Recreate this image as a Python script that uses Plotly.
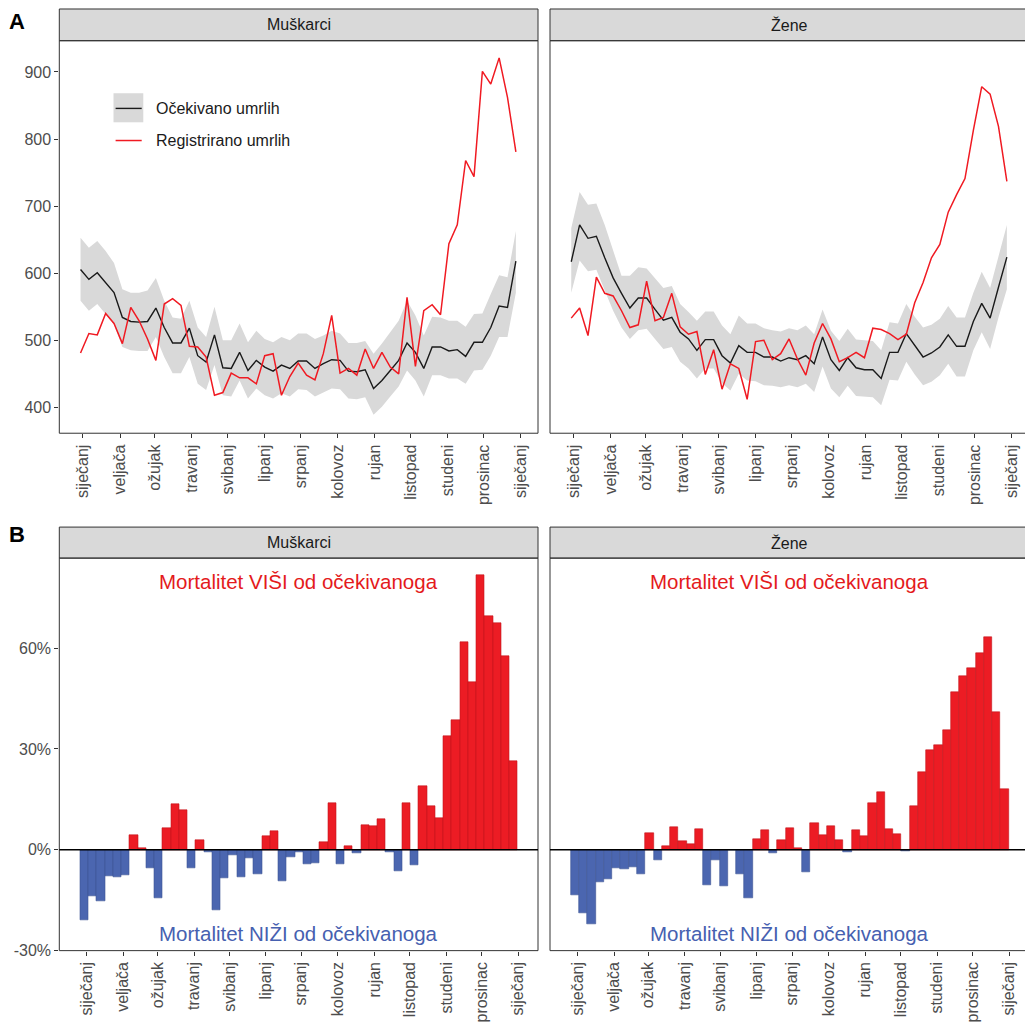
import plotly.graph_objects as go
import pandas as pd

# The page body has an 8px default margin, so the figure is drawn at (8,8)
OFF = 8
W, H = 1033 - OFF, 1030 - OFF

# ---------------- data ----------------
weeks = pd.date_range("2019-12-30", periods=53, freq="7D")

month_ticks = pd.date_range("2020-01-01", periods=13, freq="MS")
month_labels = ["siječanj", "veljača", "ožujak", "travanj", "svibanj", "lipanj",
                "srpanj", "kolovoz", "rujan", "listopad", "studeni", "prosinac", "siječanj"]

# Muškarci
m_exp = [605.6, 590.8, 600.7, 586, 571, 534, 528, 527, 528, 548,
         519, 496, 496, 518, 477, 467.5, 508, 459, 458, 482,
         455, 470, 460, 454, 463, 458, 469, 469, 458, 465,
         471, 470, 454, 453, 456, 428, 440, 455, 470, 496,
         482, 458, 490, 490, 484, 486, 476, 497, 497, 519,
         551, 549, 618]
m_hi = [653, 638, 648, 633, 615, 576, 571, 571, 574, 593,
        559, 534, 532, 559, 519, 505, 550, 500, 500, 525,
        497, 514, 502, 497, 505, 500, 510, 510, 502, 507,
        514, 510, 496, 496, 499, 480, 495, 512, 529, 559,
        537, 507, 535, 534, 529, 529, 520, 539, 540, 569,
        597, 594, 663]
m_lo = [559, 544, 554, 539, 524, 490, 485, 484, 484, 505,
        475, 451, 451, 475, 435, 426, 463, 418, 416, 440,
        413, 428, 418, 413, 421, 416, 427, 426, 416, 422,
        428, 427, 413, 412, 415, 389, 401, 416, 431, 455,
        440, 416, 448, 448, 443, 443, 435, 455, 456, 477,
        505, 505, 571]
m_reg = [481, 510, 508, 540, 525, 495, 549, 529, 502, 470,
         554, 562, 552, 491, 490, 475, 418, 422, 451, 444,
         444, 435, 477, 480, 418, 446, 466, 448, 441, 480,
         537, 451, 458, 448, 487, 458, 482, 460, 450, 564,
         461, 544, 553, 538, 644, 672, 768, 744, 901, 882,
         921, 862, 781]

# Žene
f_exp = [617, 672, 652, 655, 623, 593, 570, 548, 563, 563,
         546, 530, 534, 512, 502, 485, 501, 501, 477, 466,
         492, 482, 482, 475, 475, 469, 474, 471, 477, 465,
         505, 471, 455, 474, 459, 456, 456, 443, 482, 482,
         510, 492, 475, 481, 490, 508, 491, 491, 528, 555,
         533, 579, 624]
f_hi = [667, 721, 702, 704, 672, 633, 596, 596, 609, 607,
        593, 578, 581, 554, 542, 529, 543, 543, 522, 509,
        537, 525, 525, 518, 515, 513, 518, 515, 522, 509,
        546, 514, 499, 517, 501, 500, 499, 485, 527, 525,
        554, 535, 519, 523, 532, 551, 534, 534, 571, 602,
        578, 625, 672]
f_lo = [571, 619, 603, 605, 574, 544, 519, 502, 515, 517,
        502, 487, 490, 468, 458, 443, 458, 458, 436, 425,
        450, 440, 439, 433, 432, 430, 433, 430, 435, 423,
        461, 428, 415, 432, 417, 416, 415, 403, 441, 440,
        468, 449, 433, 438, 448, 465, 446, 446, 485, 512,
        487, 534, 576]
f_reg = [533, 548, 507, 594, 570, 566, 544, 519, 523, 588,
         529, 534, 570, 520, 509, 513, 449, 486, 427, 465,
         458, 412, 498, 500, 471, 480, 502, 472, 448, 496,
         525, 502, 468, 474, 482, 474, 518, 516, 510, 501,
         509, 556, 586, 623, 643, 691, 717, 741, 813, 878,
         867, 819, 737]

# % difference registered vs expected
m_pct = [-20.8, -13.7, -15.4, -7.8, -8.1, -7.4, 4.3, 0.6, -5.3, -14.5,
         6.5, 13.6, 11.7, -5.3, 2.9, -0.8, -17.9, -8.3, -1.6, -8.1,
         -2.5, -7.3, 4.1, 5.6, -9.4, -2.2, -0.8, -4.2, -4.0, 2.4,
         13.9, -4.2, 1.0, -1.0, 7.3, 7.0, 9.0, -0.6, -6.2, 13.9,
         -4.5, 19.1, 13.1, 9.5, 33.9, 38.6, 61.7, 49.9, 81.6, 69.5,
         67.4, 57.7, 26.5]
f_pct = [-13.6, -18.9, -22.1, -9.6, -8.8, -5.5, -5.7, -5.2, -7.1, 4.9,
         -3.1, 1.1, 6.7, 2.5, 1.8, 6.3, -10.6, -3.1, -10.9, -0.2,
         -7.1, -14.3, 3.3, 5.8, -1.1, 2.9, 6.4, 0.5, -6.7, 8.0,
         4.4, 7.0, 3.0, -0.8, 5.8, 4.1, 14.0, 17.1, 6.1, 4.6,
         -0.3, 13.0, 23.0, 29.6, 31.2, 35.6, 46.9, 51.8, 54.0, 58.4,
         63.3, 41.0, 18.2]

panel_titles = ["Muškarci", "Žene"]
legend_labels = ["Očekivano umrlih", "Registrirano umrlih"]
note_high = "Mortalitet VIŠI od očekivanoga"
note_low = "Mortalitet NIŽI od očekivanoga"
y_top_ticks = [400, 500, 600, 700, 800, 900]
y_bot_ticks = [-30, 0, 30, 60]
y_bot_labels = ["-30%", "0%", "30%", "60%"]

# ---------------- style ----------------
FONT = "Liberation Sans, Arial, sans-serif"
RED_LINE = "#F01A22"
RIBBON = "rgb(217,217,217)"
BAR_RED = "#EC1C24"
BAR_RED_EDGE = "#C2161D"
BAR_BLUE = "#4B66B0"
BAR_BLUE_EDGE = "#3D5494"
TXT_RED = "#E41A1C"
TXT_BLUE = "#4660B0"
TICK_COL = "#4D4D4D"
BORDER = "#333333"


def px_x(x):
    return (x - OFF) / W


def px_y(y):
    return 1 - (y - OFF) / H


# panel pixel boxes in window coordinates (left, right) / (top, bottom)
cols = [(59.3, 538.0), (550.0, 1029.0)]
top_rows = (41.0, 437.0)
bot_rows = (563.0, 959.0)
strip_top = (9.0, 41.0)
strip_bot = (531.7, 563.0)

fig = go.Figure()

# top panels: ribbon + lines
for i, (exp, lo, hi, reg) in enumerate([(m_exp, m_lo, m_hi, m_reg), (f_exp, f_lo, f_hi, f_reg)]):
    xa = "x" if i == 0 else "x2"
    ya = "y" if i == 0 else "y2"
    fig.add_trace(go.Scatter(x=weeks, y=lo, mode="lines", line=dict(width=0, color=RIBBON),
                             xaxis=xa, yaxis=ya, showlegend=False, hoverinfo="skip"))
    fig.add_trace(go.Scatter(x=weeks, y=hi, mode="lines", line=dict(width=0, color=RIBBON),
                             fill="tonexty", fillcolor=RIBBON,
                             xaxis=xa, yaxis=ya, showlegend=False, hoverinfo="skip"))
    fig.add_trace(go.Scatter(x=weeks, y=exp, mode="lines", line=dict(width=1.4, color="#1a1a1a"),
                             xaxis=xa, yaxis=ya, showlegend=False, name=legend_labels[0]))
    fig.add_trace(go.Scatter(x=weeks, y=reg, mode="lines", line=dict(width=1.5, color=RED_LINE),
                             xaxis=xa, yaxis=ya, showlegend=False, name=legend_labels[1]))

# bottom panels: bars
WEEK_MS = 7 * 86400000
for i, pct in enumerate([m_pct, f_pct]):
    xa = "x3" if i == 0 else "x4"
    ya = "y3" if i == 0 else "y4"
    fills = [BAR_RED if v >= 0 else BAR_BLUE for v in pct]
    edges = [BAR_RED_EDGE if v >= 0 else BAR_BLUE_EDGE for v in pct]
    fig.add_trace(go.Bar(x=weeks, y=pct, width=[WEEK_MS] * len(pct),
                         marker=dict(color=fills, line=dict(color=edges, width=0.6)),
                         xaxis=xa, yaxis=ya, showlegend=False))

# axes
tick_font = dict(family=FONT, size=16, color=TICK_COL)
top_xrange = ["2019-12-12 06:00", "2021-01-15 12:00"]
bot_xrange = ["2019-12-08 18:00", "2021-01-17 18:00"]

layout_axes = {}
names = [("xaxis", "yaxis", 0, top_rows, top_xrange),
         ("xaxis2", "yaxis2", 1, top_rows, top_xrange),
         ("xaxis3", "yaxis3", 0, bot_rows, bot_xrange),
         ("xaxis4", "yaxis4", 1, bot_rows, bot_xrange)]
for xn, yn, c, rows, xr in names:
    l, r = cols[c]
    t, b = rows
    anchor_y = yn.replace("axis", "")
    anchor_x = xn.replace("axis", "")
    layout_axes[xn] = dict(domain=[px_x(l), px_x(r)], anchor=anchor_y, type="date", range=xr,
                           tickmode="array", tickvals=month_ticks, ticktext=month_labels,
                           tickangle=-90, ticks="outside", ticklen=4, tickcolor=BORDER,
                           tickwidth=1, tickfont=tick_font, showgrid=False, zeroline=False,
                           showline=False)
    is_top = rows == top_rows
    ydict = dict(domain=[px_y(b), px_y(t)], anchor=anchor_x, showgrid=False, zeroline=False,
                 showline=False)
    if is_top:
        ydict.update(range=[361.4, 946.6], tickmode="array", tickvals=y_top_ticks)
    else:
        ydict.update(range=[-30, 86.8], tickmode="array", tickvals=y_bot_ticks,
                     ticktext=y_bot_labels)
    if c == 0:
        ydict.update(ticks="outside", ticklen=4, tickcolor=BORDER, tickwidth=1,
                     tickfont=tick_font, showticklabels=True)
    else:
        ydict.update(ticks="", showticklabels=False)
    layout_axes[yn] = ydict

fig.update_layout(**layout_axes)

shapes = []
annotations = []

# panel borders
for xn, yn, c, rows, xr in names:
    xr_ = xn.replace("axis", "") + " domain"
    yr_ = yn.replace("axis", "") + " domain"
    shapes.append(dict(type="rect", xref=xr_, yref=yr_, x0=0, x1=1, y0=0, y1=1,
                       line=dict(color=BORDER, width=1), fillcolor="rgba(0,0,0,0)", layer="above"))

# zero lines in bar panels
for xr_, yr_ in [("x3 domain", "y3"), ("x4 domain", "y4")]:
    shapes.append(dict(type="line", xref=xr_, yref=yr_, x0=0, x1=1, y0=0, y1=0,
                       line=dict(color="black", width=1.6), layer="above"))

# strips
for (st, sb) in [strip_top, strip_bot]:
    for c, (l, r) in enumerate(cols):
        shapes.append(dict(type="rect", xref="paper", yref="paper",
                           x0=px_x(l), x1=px_x(r), y0=px_y(sb), y1=px_y(st),
                           fillcolor="#D9D9D9", line=dict(color=BORDER, width=1), layer="below"))
        annotations.append(dict(text=panel_titles[c], xref="paper", yref="paper",
                                x=px_x((l + r) / 2), y=px_y((st + sb) / 2),
                                showarrow=False, xanchor="center", yanchor="middle",
                                font=dict(family=FONT, size=16, color="#1a1a1a")))

# manual legend (inside top-left panel)
shapes.append(dict(type="rect", xref="paper", yref="paper",
                   x0=px_x(113.5), x1=px_x(143.3), y0=px_y(123.3), y1=px_y(94.0),
                   fillcolor=RIBBON, line=dict(width=0), layer="above"))
shapes.append(dict(type="line", xref="paper", yref="paper",
                   x0=px_x(115.6), x1=px_x(141.7), y0=px_y(109.3), y1=px_y(109.3),
                   line=dict(color="#1a1a1a", width=1.4), layer="above"))
shapes.append(dict(type="line", xref="paper", yref="paper",
                   x0=px_x(115.6), x1=px_x(141.7), y0=px_y(141.7), y1=px_y(141.7),
                   line=dict(color=RED_LINE, width=1.5), layer="above"))
for txt, yy in [(legend_labels[0], 109.3), (legend_labels[1], 141.7)]:
    annotations.append(dict(text=txt, xref="paper", yref="paper", x=px_x(154), y=px_y(yy),
                            xanchor="left", yanchor="middle", showarrow=False,
                            font=dict(family=FONT, size=16, color="#1a1a1a")))

# notes in bar panels
for c, xr_ in enumerate(["x3 domain", "x4 domain"]):
    annotations.append(dict(text=note_high, xref=xr_, yref="paper", x=0.5, y=px_y(587),
                            xanchor="center", yanchor="middle", showarrow=False,
                            font=dict(family=FONT, size=20.5, color=TXT_RED)))
    annotations.append(dict(text=note_low, xref=xr_, yref="paper", x=0.5, y=px_y(942),
                            xanchor="center", yanchor="middle", showarrow=False,
                            font=dict(family=FONT, size=20.5, color=TXT_BLUE)))

# panel tags
annotations.append(dict(text="<b>A</b>", xref="paper", yref="paper", x=0, y=1,
                        xanchor="left", yanchor="top", showarrow=False, borderpad=0,
                        font=dict(family=FONT, size=22, color="black")))
annotations.append(dict(text="<b>B</b>", xref="paper", yref="paper", x=0, y=px_y(539),
                        xanchor="left", yanchor="middle", showarrow=False, borderpad=0,
                        font=dict(family=FONT, size=22, color="black")))

fig.update_layout(width=W, height=H, margin=dict(l=0, r=0, t=0, b=0),
                  paper_bgcolor="white", plot_bgcolor="white",
                  bargap=0, showlegend=False, shapes=shapes, annotations=annotations,
                  font=dict(family=FONT))

fig.write_html("out.html")
